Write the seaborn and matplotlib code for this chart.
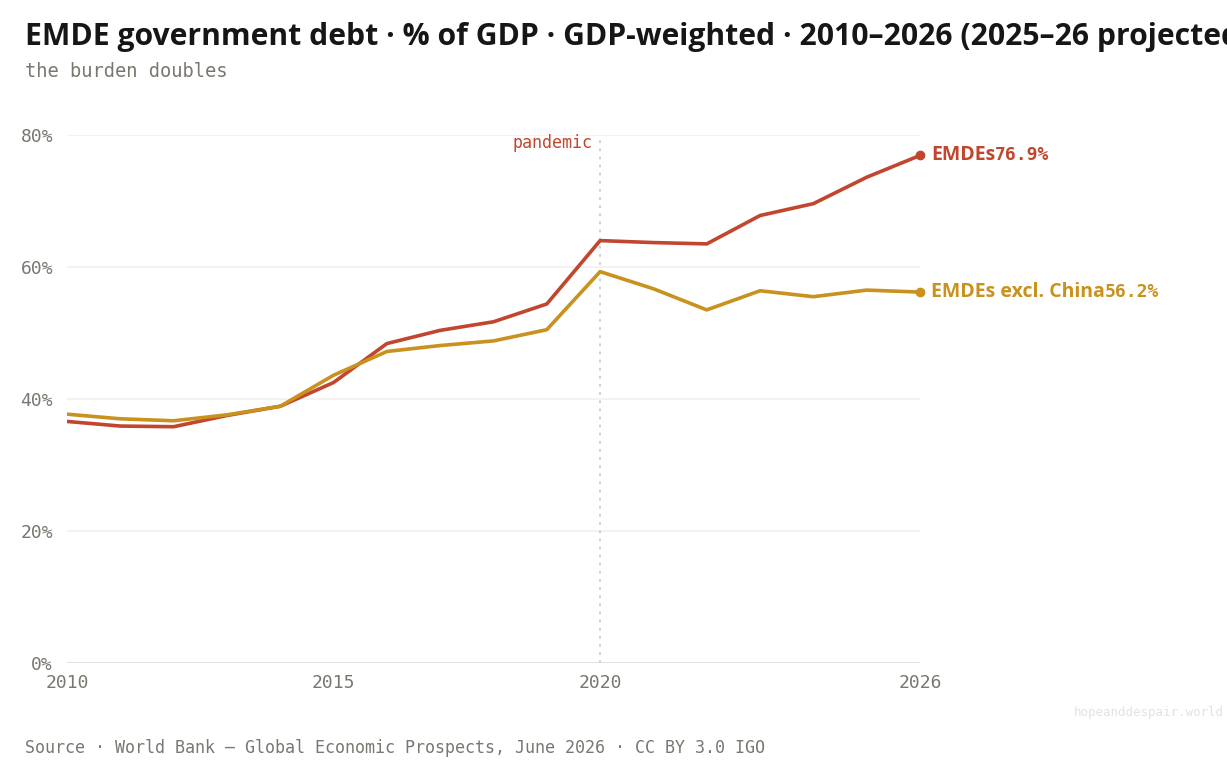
import matplotlib
matplotlib.use("Agg")
import matplotlib.pyplot as plt
from matplotlib import font_manager
import seaborn as sns
import pandas as pd

years = list(range(2010, 2027))
emdes = [36.6, 35.9, 35.8, 37.5, 38.9, 42.5, 48.4, 50.4, 51.7, 54.4, 64.0, 63.7, 63.5, 67.8, 69.6, 73.6, 76.9]
emdes_ex_china = [37.7, 37.0, 36.7, 37.6, 38.9, 43.6, 47.2, 48.1, 48.8, 50.5, 59.3, 56.7, 53.5, 56.4, 55.5, 56.5, 56.2]
series_names = ["EMDEs", "EMDEs excl. China"]
y_ticks = [0, 20, 40, 60, 80]
x_ticks = [2010, 2015, 2020, 2026]
title_text = "EMDE government debt · % of GDP · GDP-weighted · 2010–2026 (2025–26 projected)"
subtitle_text = "the burden doubles"
source_text = "Source · World Bank — Global Economic Prospects, June 2026 · CC BY 3.0 IGO"
event_label = "pandemic"
event_year = 2020

RED = "#c2452d"
GOLD = "#c9911d"
GRAY = "#7a7770"

sns.set_theme(style="white")
SANS = ["Noto Sans", "DejaVu Sans"]
plt.rcParams["font.family"] = SANS
MONO = ["DejaVu Sans Mono", "DejaVu Sans"]

fig = plt.figure(figsize=(12.27, 7.71), dpi=100)
renderer = fig.canvas.get_renderer()

# choose a bold sans face whose width best fits the reference title
SAMPLE = "EMDE government debt · % of GDP · GDP-weighted"
TARGET_W = 750.0
cands = []
for f in font_manager.fontManager.ttflist:
    if f.name in ("Noto Sans", "Open Sans") and f.style == "normal":
        try:
            w = int(f.weight)
        except (TypeError, ValueError):
            w = 700 if str(f.weight).lower() == "bold" else 400
        if w == 700:
            cands.append(f.fname)
best = None
for fn in cands:
    fp = font_manager.FontProperties(fname=fn, size=20)
    t = fig.text(0, 0, SAMPLE, fontproperties=fp)
    wpx = t.get_window_extent(renderer).width
    t.remove()
    score = abs(wpx - TARGET_W)
    if best is None or score < best[0]:
        best = (score, fn, wpx)

if best:
    bold_file = best[1]
    title_size = max(18.0, min(23.0, 20 * TARGET_W / best[2]))
else:
    bold_file = None
    title_size = 21


def bold_kw(size):
    if bold_file:
        return dict(fontproperties=font_manager.FontProperties(fname=bold_file, size=size))
    return dict(family=SANS, fontweight="bold", fontsize=size)


label_size = 13 * title_size / 20

df = pd.DataFrame({
    "year": years * 2,
    "value": emdes + emdes_ex_china,
    "series": [series_names[0]] * len(years) + [series_names[1]] * len(years),
})

ax = fig.add_axes([67 / 1227, 1 - 663 / 771, (920 - 67) / 1227, (663 - 135) / 771])

sns.lineplot(data=df, x="year", y="value", hue="series",
             palette={series_names[0]: RED, series_names[1]: GOLD},
             linewidth=2.6, ax=ax, legend=False)
for ln in ax.lines:
    ln.set_solid_joinstyle("round")
    ln.set_solid_capstyle("round")

ax.set_xlim(2010, 2026)
ax.set_ylim(0, 80)
ax.set_xticks(x_ticks)
ax.set_yticks(y_ticks)
ax.set_xticklabels([str(x) for x in x_ticks], family=MONO, fontsize=13, color=GRAY)
ax.set_yticklabels([f"{v}%" for v in y_ticks], family=MONO, fontsize=13, color=GRAY)
ax.tick_params(axis="both", length=0)
ax.tick_params(axis="x", pad=8)
ax.tick_params(axis="y", pad=10)
ax.set_xlabel("")
ax.set_ylabel("")
for s in ax.spines.values():
    s.set_visible(False)
for v in y_ticks:
    ax.axhline(v, color="#dddddd" if v == 0 else "#f0f0f0", linewidth=1.2, zorder=0)

# pandemic marker
ax.axvline(event_year, color="#cccccc", linestyle=(0, (1.5, 3)), linewidth=1.3, zorder=0)
ax.text(event_year - 0.15, 80.2, event_label, family=MONO, fontsize=12, color=RED,
        ha="right", va="top")

# end labels
for vals, name, col in [(emdes, series_names[0], RED), (emdes_ex_china, series_names[1], GOLD)]:
    ax.scatter([years[-1]], [vals[-1]], s=36, color=col, zorder=5, clip_on=False)
    t = ax.annotate(name, xy=(years[-1], vals[-1]), xytext=(8, 0), textcoords="offset points",
                    color=col, va="center", ha="left",
                    annotation_clip=False, **bold_kw(label_size))
    ax.annotate(f"{vals[-1]:.1f}%", xy=(1, 0.5), xycoords=t, xytext=(0, 0),
                textcoords="offset points", family=MONO, fontsize=13, fontweight="bold",
                color=col, va="center", ha="left", annotation_clip=False)

fig.text(25 / 1227, 1 - 45 / 771, title_text,
         color="#161616", ha="left", va="baseline", **bold_kw(title_size))
fig.text(25 / 1227, 1 - 77 / 771, subtitle_text, family=MONO, fontsize=13.5,
         color=GRAY, ha="left", va="baseline")
fig.text(25 / 1227, 1 - 753 / 771, source_text,
         family=MONO, fontsize=12, color=GRAY, ha="left", va="baseline")
fig.text(1224 / 1227, 1 - 716 / 771, "hopeanddespair.world", family=MONO, fontsize=9,
         color="#e2e2e2", ha="right", va="baseline")

fig.savefig("out.png", dpi=100, facecolor="white")
